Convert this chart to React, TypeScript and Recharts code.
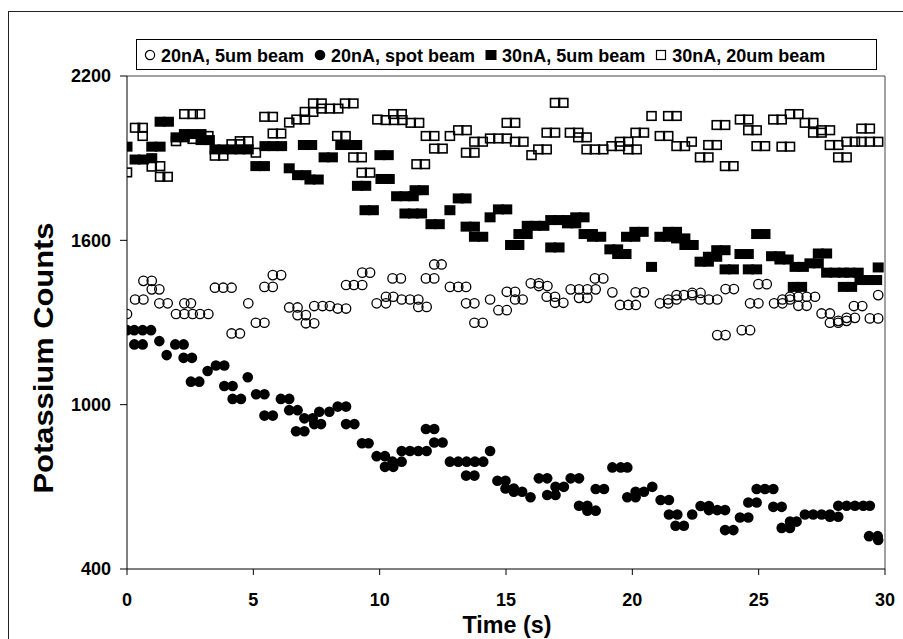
import React from 'react';
import { ScatterChart, Scatter, XAxis, YAxis, ReferenceLine } from 'recharts';

const FONT = '"Liberation Sans", Arial, Helvetica, sans-serif';

const seriesNames = ['20nA, 5um beam', '20nA, spot beam', '30nA, 5um beam', '30nA, 20um beam'];
const xTicks = [0, 5, 10, 15, 20, 25, 30];
const yTicks = [400, 1000, 1600, 2200];

const openCircles: [number, number][] = [
  [0,1331],[0.32,1384],[0.65,1384],[0.65,1452],[0.98,1452],[0.98,1421],[1.28,1421],[1.28,1370],[1.61,1370],
  [1.94,1331],[2.27,1331],[2.27,1370],[2.53,1370],[2.6,1331],[2.89,1331],[3.22,1331],[3.48,1427],[3.81,1427],
  [4.14,1427],[4.14,1260],[4.47,1260],[4.8,1370],[5.1,1299],[5.44,1299],[5.44,1430],[5.77,1430],[5.77,1473],
  [6.1,1473],[6.42,1355],[6.75,1355],[6.75,1327],[7.08,1327],[7.08,1297],[7.41,1297],[7.41,1360],[7.74,1360],
  [8.03,1360],[8.34,1351],[8.67,1351],[8.67,1437],[8.98,1437],[9.31,1437],[9.31,1482],[9.62,1482],[9.88,1370],
  [10.25,1370],[10.25,1394],[10.54,1394],[10.51,1461],[10.84,1461],[10.87,1384],[11.2,1384],[11.53,1384],
  [11.53,1357],[11.86,1357],[11.83,1461],[12.16,1461],[12.16,1512],[12.45,1512],[12.78,1430],[13.11,1430],
  [13.42,1430],[13.42,1370],[13.75,1370],[13.75,1299],[14.08,1299],[14.37,1384],[14.7,1345],[15.03,1345],
  [15.03,1412],[15.36,1412],[15.36,1384],[15.66,1384],[15.98,1443],[16.3,1443],[16.3,1433],[16.64,1433],
  [16.61,1394],[16.94,1394],[16.94,1372],[17.27,1372],[17.56,1421],[17.89,1421],[17.89,1390],[18.22,1390],
  [18.22,1421],[18.55,1421],[18.52,1461],[18.85,1461],[19.21,1410],[19.51,1364],[19.84,1364],[20.14,1364],
  [20.13,1410],[20.46,1410],[21.09,1370],[21.42,1370],[21.42,1384],[21.75,1384],[21.75,1400],[22.04,1400],
  [22.37,1400],[22.37,1408],[22.7,1408],[22.7,1384],[23.03,1384],[23.36,1384],[23.36,1254],[23.69,1254],
  [23.69,1422],[24.02,1422],[24.33,1272],[24.66,1272],[24.66,1370],[24.99,1370],[24.99,1440],[25.32,1440],
  [25.61,1370],[25.94,1370],[25.94,1384],[26.24,1384],[26.24,1394],[26.57,1394],[26.57,1361],[26.9,1361],
  [26.9,1394],[27.23,1394],[27.49,1333],[27.82,1333],[27.82,1299],[28.15,1299],[28.15,1306],[28.48,1306],
  [28.48,1317],[28.81,1317],[28.77,1360],[29.1,1360],[29.4,1315],[29.73,1315],[29.73,1400],
];

const filledCircles: [number, number][] = [
  [0,1272],[0.29,1272],[0.62,1272],[0.95,1272],[0.29,1220],[0.62,1220],[1.28,1232],[1.57,1181],[1.91,1220],
  [2.24,1220],[2.24,1171],[2.57,1171],[2.53,1084],[2.86,1084],[3.19,1123],[3.52,1143],[3.85,1143],[3.85,1068],
  [4.18,1068],[4.18,1021],[4.51,1021],[4.78,1100],[5.11,1038],[5.44,1038],[5.44,960],[5.77,960],[6.09,1021],
  [6.42,1021],[6.42,980],[6.75,980],[6.69,903],[7.02,903],[7.02,950],[7.35,950],[7.41,929],[7.68,929],
  [7.61,974],[8.01,974],[8.34,993],[8.67,993],[8.67,929],[9.0,929],[9.3,859],[9.56,859],[9.88,812],[10.21,812],
  [10.21,773],[10.54,773],[10.51,792],[10.87,792],[10.87,831],[11.2,831],[11.53,831],[11.86,831],[11.83,911],
  [12.16,911],[12.16,862],[12.49,862],[12.78,792],[13.11,792],[13.44,792],[13.77,792],[14.1,792],[13.42,741],
  [13.75,741],[14.37,831],[14.66,722],[14.98,722],[14.98,694],[15.31,694],[15.31,682],[15.64,682],[15.97,662],
  [16.3,731],[16.63,731],[16.63,670],[16.96,670],[16.96,700],[17.29,700],[17.56,731],[17.89,731],[17.89,631],
  [18.22,631],[18.22,613],[18.55,613],[18.55,692],[18.88,692],[19.21,771],[19.54,771],[19.8,771],[19.8,662],
  [20.13,662],[20.13,682],[20.46,682],[20.79,700],[21.12,652],[21.45,652],[21.45,599],[21.78,599],[21.71,558],
  [22.04,558],[22.37,599],[22.7,630],[23.03,630],[23.03,615],[23.36,615],[23.67,615],[23.67,542],[24.0,542],
  [24.26,588],[24.59,588],[24.59,643],[24.92,643],[24.92,692],[25.25,692],[25.58,692],[25.58,627],[25.91,627],
  [25.91,550],[26.24,550],[26.24,573],[26.5,573],[26.83,599],[27.16,599],[27.49,599],[27.82,599],[27.82,591],
  [28.15,591],[28.15,631],[28.48,631],[28.81,631],[29.14,631],[29.4,631],[29.37,520],[29.71,520],[29.73,506],
];

const filledSquares: [number, number][] = [
  [0,1942],[0.32,1895],[0.65,1895],[0.98,1900],[0.98,1942],[1.31,1942],[1.31,2033],[1.64,2033],[1.94,1976],
  [2.27,1976],[2.27,1988],[2.6,1988],[2.93,1988],[2.93,1966],[3.26,1966],[3.48,1932],[3.81,1932],[4.14,1932],
  [4.47,1932],[4.8,1932],[5.1,1871],[5.44,1871],[5.46,1944],[5.79,1944],[6.12,1944],[6.42,1863],[6.75,1838],
  [7.08,1838],[7.24,1822],[7.57,1822],[6.98,1948],[7.31,1948],[7.8,1903],[8.13,1903],[8.46,1948],[8.79,1948],
  [9.09,1948],[9.12,1799],[9.45,1799],[9.42,1710],[9.75,1710],[10.05,1824],[10.38,1824],[10.01,1911],
  [10.34,1911],[10.67,1761],[11.0,1761],[11.33,1761],[11.0,1698],[11.33,1698],[11.66,1698],[11.4,1783],
  [11.73,1783],[12.03,1659],[12.36,1659],[12.78,1710],[13.11,1753],[13.42,1753],[13.42,1650],[13.75,1650],
  [13.75,1613],[14.08,1613],[14.37,1684],[14.7,1713],[15.03,1713],[15.18,1583],[15.51,1583],[15.51,1623],
  [15.84,1623],[15.84,1653],[16.17,1653],[16.5,1653],[16.77,1574],[17.1,1574],[16.77,1674],[17.1,1674],
  [17.43,1674],[17.43,1662],[17.76,1662],[17.76,1684],[18.09,1684],[18.09,1623],[18.42,1623],[18.42,1613],
  [18.75,1613],[19.11,1567],[19.42,1567],[19.42,1550],[19.75,1550],[19.77,1613],[20.1,1613],[20.1,1631],
  [20.43,1631],[20.76,1503],[21.09,1613],[21.42,1613],[21.42,1631],[21.75,1631],[21.75,1607],[22.08,1607],
  [22.08,1583],[22.41,1583],[22.68,1522],[23.01,1522],[23.01,1540],[23.34,1540],[23.34,1564],[23.67,1564],
  [23.67,1494],[24.0,1494],[24.26,1550],[24.59,1550],[24.59,1494],[24.92,1494],[24.92,1623],[25.25,1623],
  [25.51,1542],[25.84,1542],[25.84,1530],[26.17,1530],[26.37,1430],[26.7,1430],[26.44,1503],[26.77,1503],
  [27.03,1516],[27.36,1516],[27.36,1552],[27.69,1552],[27.69,1482],[28.02,1482],[28.35,1482],[28.35,1430],
  [28.68,1430],[28.61,1482],[28.94,1482],[29.01,1455],[29.34,1455],[29.67,1455],[29.73,1501],
];

const openSquares: [number, number][] = [
  [0,1848],[0.32,2011],[0.62,2011],[0.62,1981],[0.98,1869],[1.31,1832],[1.61,1832],[1.31,1871],[1.94,1962],
  [2.27,2061],[2.6,2061],[2.89,2061],[2.6,1970],[3.22,1981],[3.48,1909],[3.81,1909],[4.14,1951],[4.47,1951],
  [4.47,1962],[4.8,1962],[5.1,1920],[5.44,2051],[5.77,2051],[5.77,1990],[6.1,1990],[6.42,2030],[6.71,2041],
  [7.04,2041],[7.04,2069],[7.37,2069],[7.37,2100],[7.7,2100],[7.7,2081],[8.03,2081],[8.36,2081],[8.63,2100],
  [8.96,2100],[8.32,1981],[8.65,1981],[8.96,1903],[9.29,1903],[9.29,1847],[9.62,1847],[9.91,2041],[10.24,2039],
  [10.57,2039],[10.9,2039],[10.54,2061],[10.87,2061],[11.23,2029],[11.56,2029],[11.46,1878],[11.79,1878],
  [11.83,1981],[12.16,1981],[12.16,1935],[12.49,1935],[12.78,1981],[13.11,2002],[13.44,2002],[13.42,1920],
  [13.75,1920],[13.75,1960],[14.08,1960],[14.37,1972],[14.7,1972],[15.03,1972],[15.03,2029],[15.36,2029],
  [15.36,1960],[15.69,1960],[16.01,1911],[16.28,1932],[16.61,1932],[16.61,1993],[16.94,1993],[16.94,2102],
  [17.27,2102],[17.53,1993],[17.86,1993],[17.86,1976],[18.19,1976],[18.19,1932],[18.52,1932],[18.85,1932],
  [19.18,1944],[19.51,1944],[19.51,1960],[19.84,1960],[19.84,1932],[20.17,1932],[20.13,1993],[20.46,1993],
  [20.76,2054],[21.09,1981],[21.42,1981],[21.42,2054],[21.75,2054],[21.75,1944],[22.08,1944],[22.35,1960],
  [22.68,1903],[23.01,1903],[23.01,1948],[23.34,1948],[23.34,2021],[23.67,2021],[23.67,1871],[24.0,1871],
  [24.26,2041],[24.59,2041],[24.59,2002],[24.92,2002],[24.92,1944],[25.25,1944],[25.58,2041],[25.91,2041],
  [25.91,1942],[26.24,1942],[26.24,2061],[26.57,2061],[26.83,2029],[27.16,2029],[27.16,1993],[27.49,1993],
  [27.49,2002],[27.82,2002],[27.82,1948],[28.15,1948],[28.15,1903],[28.48,1903],[28.48,1960],[28.81,1960],
  [29.07,2008],[29.4,2008],[29.07,1960],[29.4,1960],[29.73,1960],
];

const toRows = (pts: [number, number][]) => pts.map(([t, c]) => ({ t, c }));

const OpenCircle = (p: any) => (
  <circle cx={p.cx} cy={p.cy} r={4.7} fill="none" stroke="#000" strokeWidth={1.3} />
);
const FilledCircle = (p: any) => <circle cx={p.cx} cy={p.cy} r={5.3} fill="#000" />;
const FilledSquare = (p: any) => (
  <rect x={p.cx - 5.5} y={p.cy - 5} width={11} height={10} fill="#000" />
);
const OpenSquare = (p: any) => (
  <rect x={p.cx - 4.5} y={p.cy - 4.3} width={9} height={8.6} fill="none" stroke="#000" strokeWidth={1.6} />
);

const legendMarkers = [
  <circle cx={6} cy={6} r={4.6} fill="none" stroke="#000" strokeWidth={1.2} />,
  <circle cx={6} cy={6} r={5.3} fill="#000" />,
  <rect x={0.5} y={1} width={11} height={10} fill="#000" />,
  <rect x={1.5} y={1.5} width={9} height={9} fill="none" stroke="#000" strokeWidth={1.2} />,
];

const XLabel = () => (
  <text x={498} y={621} textAnchor="middle" fontFamily={FONT} fontWeight="bold" fontSize={24}
    textLength={89} lengthAdjust="spacingAndGlyphs" fill="#000">Time (s)</text>
);
const YLabel = () => (
  <text transform="translate(44.3,346) rotate(-90)" textAnchor="middle" fontFamily={FONT} fontWeight="bold"
    fontSize={28} textLength={271} lengthAdjust="spacingAndGlyphs" fill="#000">Potassium Counts</text>
);

export default function App() {
  const tickStyle = { fill: '#000', fontSize: 18, fontWeight: 'bold', fontFamily: FONT };
  return (
    <div style={{ position: 'fixed', left: 0, top: 0, width: 903, height: 639, overflow: 'hidden', background: '#fff' }}>
      <div style={{ position: 'absolute', left: 8, top: 11, width: 1000, height: 700, border: '1px solid #222' }}>
        <div style={{ position: 'absolute', left: 0, top: 0 }}>
          <ScatterChart width={895} height={640} margin={{ top: 64, right: 19, bottom: 43, left: 48 }}>
            <XAxis type="number" dataKey="t" domain={[0, 30]} ticks={xTicks} tickSize={6} tickMargin={18} height={40}
              axisLine={{ stroke: '#000' }} tickLine={{ stroke: '#000' }} tick={tickStyle} allowDataOverflow
              label={<XLabel />} />
            <YAxis type="number" dataKey="c" domain={[400, 2200]} ticks={yTicks} width={70} tickSize={7} tickMargin={9}
              axisLine={{ stroke: '#000' }} tickLine={{ stroke: '#000' }} tick={tickStyle} allowDataOverflow
              label={<YLabel />} />
            <ReferenceLine y={2200} stroke="#444" />
            <ReferenceLine x={30} stroke="#444" />
            <Scatter name={seriesNames[0]} data={toRows(openCircles)} shape={OpenCircle} isAnimationActive={false} />
            <Scatter name={seriesNames[1]} data={toRows(filledCircles)} shape={FilledCircle} isAnimationActive={false} />
            <Scatter name={seriesNames[2]} data={toRows(filledSquares)} shape={FilledSquare} isAnimationActive={false} />
            <Scatter name={seriesNames[3]} data={toRows(openSquares)} shape={OpenSquare} isAnimationActive={false} />
          </ScatterChart>
        </div>
      </div>
      <div style={{ position: 'absolute', left: 136, top: 39, width: 741, height: 31, boxSizing: 'border-box',
        border: '1px solid #000', background: '#fff', display: 'flex', alignItems: 'center',
        justifyContent: 'flex-start', padding: '0 0 0 7px', fontFamily: FONT, fontWeight: 'bold', fontSize: 18 }}>
        {seriesNames.map((n, i) => (
          <div key={n} style={{ display: 'flex', alignItems: 'center', whiteSpace: 'nowrap', marginRight: 10 }}>
            <svg width={12} height={12} style={{ marginRight: 5 }}>{legendMarkers[i]}</svg>
            <span style={{ lineHeight: '18px', paddingTop: 2 }}>{n}</span>
          </div>
        ))}
      </div>
    </div>
  );
}
